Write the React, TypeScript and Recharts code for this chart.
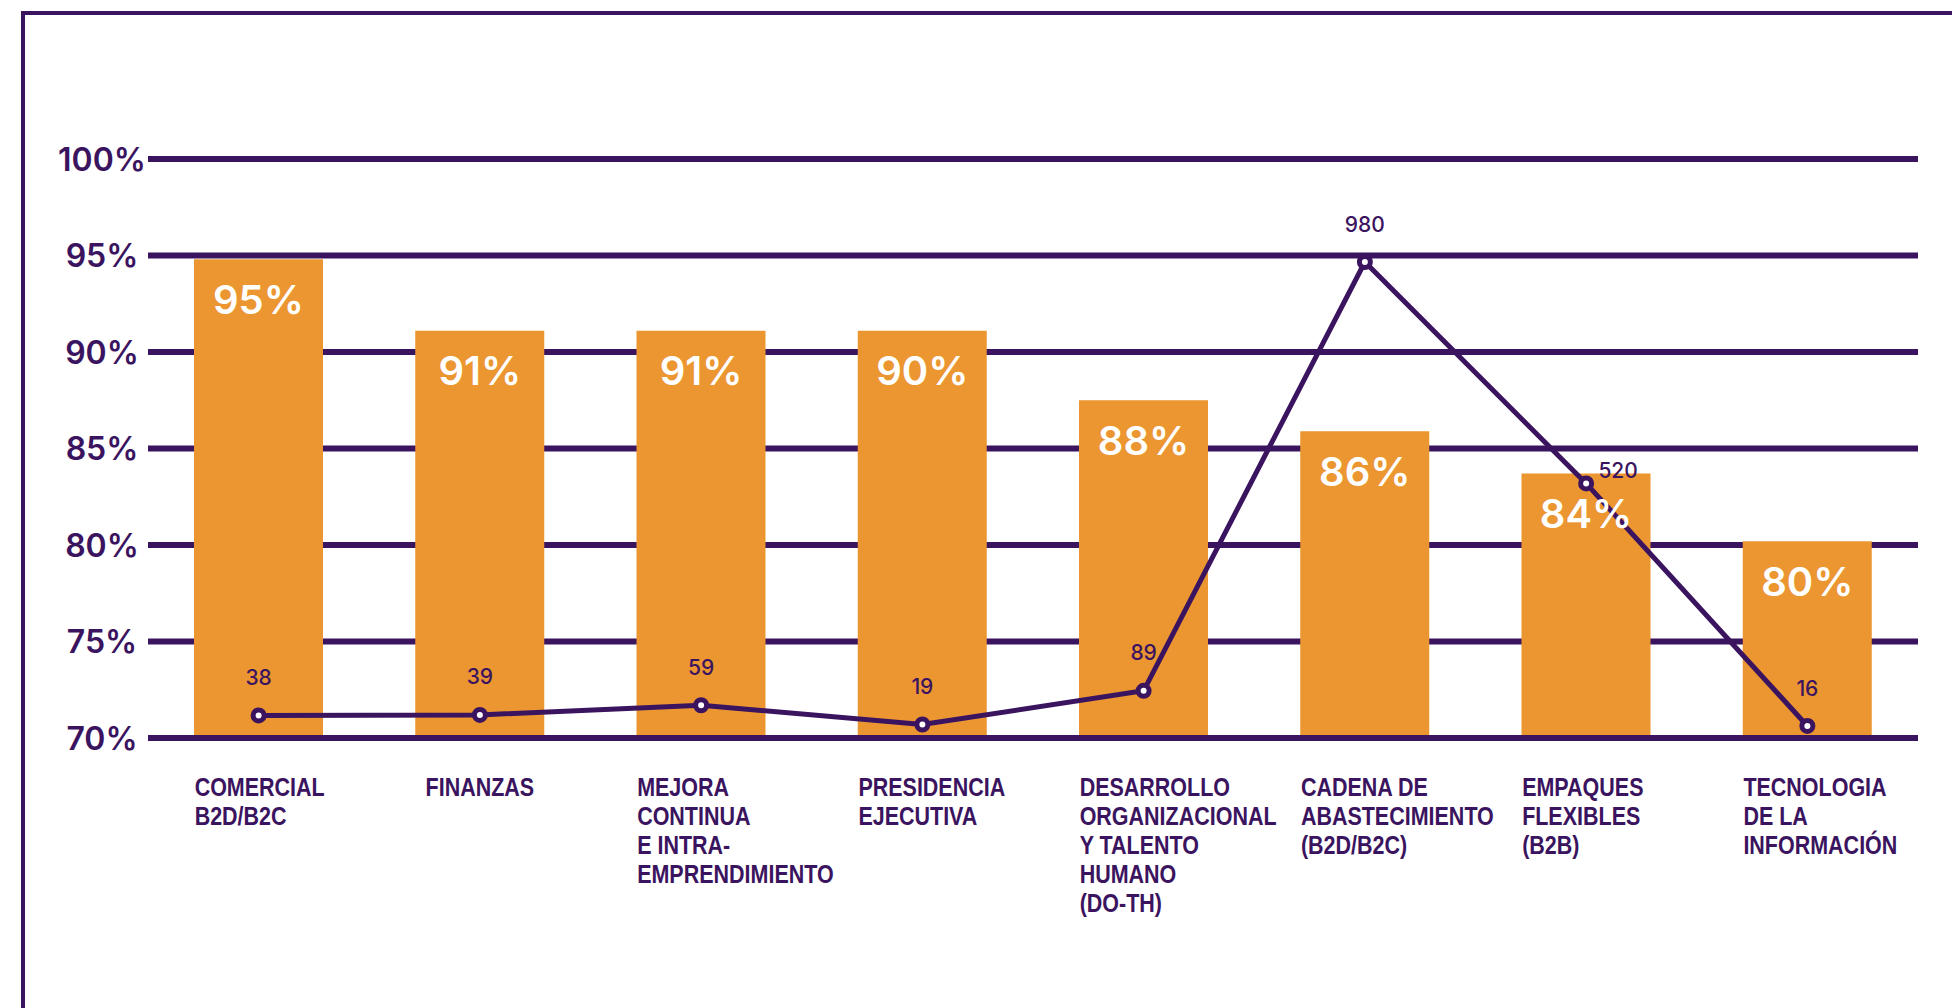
import {
  ComposedChart,
  Bar,
  Line,
  XAxis,
  YAxis,
  CartesianGrid,
  ReferenceLine,
  LabelList,
} from "recharts";

const categories = [
  "COMERCIAL\nB2D/B2C",
  "FINANZAS",
  "MEJORA\nCONTINUA\nE INTRA-\nEMPRENDIMIENTO",
  "PRESIDENCIA\nEJECUTIVA",
  "DESARROLLO\nORGANIZACIONAL\nY TALENTO\nHUMANO\n(DO-TH)",
  "CADENA DE\nABASTECIMIENTO\n(B2D/B2C)",
  "EMPAQUES\nFLEXIBLES\n(B2B)",
  "TECNOLOGIA\nDE LA\nINFORMACIÓN",
];

// bar heights as drawn, and the percent printed on each bar
const satisfaction = [94.8, 91.1, 91.1, 91.1, 87.5, 85.9, 83.7, 80.2];
const satisfactionLabels = ["95%", "91%", "91%", "90%", "88%", "86%", "84%", "80%"];

// people per area (line)
const respondents = [38, 39, 59, 19, 89, 980, 520, 16];

const yTicks = [70, 75, 80, 85, 90, 95, 100];

const PURPLE = "#3b1460";
const ORANGE = "#eb9631";

const data = categories.map((category, i) => ({
  category,
  satisfaction: satisfaction[i],
  label: satisfactionLabels[i],
  people: respondents[i],
}));

// condensed bold look: Liberation Sans Bold squeezed horizontally
function CategoryTick({ x, y, payload }: any) {
  const lines = String(payload.value).split("\n");
  const single = lines.length === 1;
  const tx = single ? x : x - 64;
  return (
    <g transform={`translate(${tx},${y + 50}) scale(0.86,1)`}>
      <text
        x={0}
        y={0}
        textAnchor={single ? "middle" : "start"}
        fill={PURPLE}
        fontFamily="'Liberation Sans', Arial, sans-serif"
        fontWeight={700}
        fontSize={25}
      >
        {lines.map((line, i) => (
          <tspan key={i} x={0} dy={i === 0 ? 0 : 29}>
            {line}
          </tspan>
        ))}
      </text>
    </g>
  );
}

function PercentTick({ x, y, payload }: any) {
  return (
    <text
      x={x - 38}
      y={y}
      dy="0.36em"
      textAnchor="middle"
      fill={PURPLE}
      fontFamily="Inter, sans-serif"
      fontWeight={600}
      fontSize={32}
    >
      {payload.value}%
    </text>
  );
}

function BarValueLabel({ x, y, width, index }: any) {
  return (
    <text
      x={x + width / 2}
      y={y + 40}
      dy="0.36em"
      textAnchor="middle"
      fill="#ffffff"
      fontFamily="Inter, sans-serif"
      fontWeight={600}
      fontSize={40}
    >
      {satisfactionLabels[index]}
    </text>
  );
}

function PeopleLabel({ x, y, value, index }: any) {
  const side = index === 6;
  return (
    <text
      x={side ? x + 32 : x}
      y={side ? y - 13 : y - 38}
      dy="0.36em"
      textAnchor="middle"
      fill={PURPLE}
      fontFamily="Inter, sans-serif"
      fontWeight={500}
      fontSize={21}
    >
      {value}
    </text>
  );
}

export default function App() {
  return (
    <div
      style={{
        position: "absolute",
        left: 0,
        top: 0,
        width: 1952,
        height: 1008,
        background: "#ffffff",
        overflow: "hidden",
      }}
    >
      <div
        style={{
          position: "absolute",
          left: 21,
          top: 11,
          width: 2100,
          height: 1200,
          border: `4px solid ${PURPLE}`,
        }}
      />
      <div style={{ position: "absolute", left: 0, top: 0 }}>
        <ComposedChart
          width={1952}
          height={1008}
          data={data}
          margin={{ top: 159, right: 34, bottom: 70, left: 0 }}
          barCategoryGap={0}
        >
          <CartesianGrid
            yAxisId="left"
            vertical={false}
            stroke={PURPLE}
            strokeWidth={6}
          />
          <XAxis
            dataKey="category"
            axisLine={false}
            tickLine={false}
            interval={0}
            height={200}
            tick={<CategoryTick />}
          />
          <YAxis
            yAxisId="left"
            domain={[70, 100]}
            ticks={yTicks}
            allowDataOverflow
            axisLine={false}
            tickLine={false}
            width={148}
            tick={<PercentTick />}
          />
          <YAxis
            yAxisId="right"
            orientation="right"
            domain={[-9, 1194]}
            allowDataOverflow
            hide
          />
          <Bar
            yAxisId="left"
            dataKey="satisfaction"
            fill={ORANGE}
            barSize={129}
            isAnimationActive={false}
          >
            <LabelList dataKey="label" content={<BarValueLabel />} />
          </Bar>
          <ReferenceLine yAxisId="left" y={70} stroke={PURPLE} strokeWidth={6} />
          <Line
            yAxisId="right"
            type="linear"
            dataKey="people"
            stroke={PURPLE}
            strokeWidth={5}
            dot={{ r: 5.5, fill: "#ffffff", stroke: PURPLE, strokeWidth: 5 }}
            activeDot={false}
            isAnimationActive={false}
          >
            <LabelList dataKey="people" content={<PeopleLabel />} />
          </Line>
        </ComposedChart>
      </div>
    </div>
  );
}
